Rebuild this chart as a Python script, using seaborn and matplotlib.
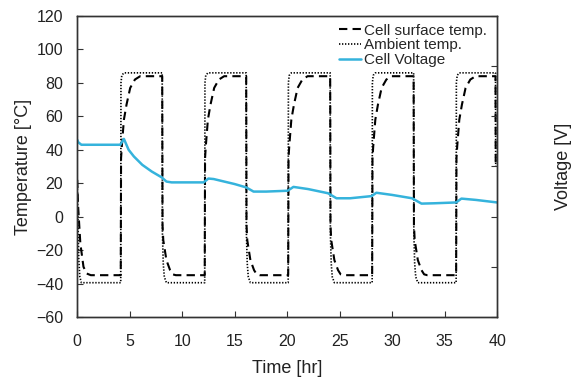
import matplotlib
matplotlib.use("Agg")
import matplotlib.pyplot as plt
import seaborn as sns
import pandas as pd

# ---- data ----
amb_t = [0, 0.05, 0.15, 0.25, 0.4,
         4.15, 4.17, 4.25, 4.45,
         8.1, 8.12, 8.2, 8.3, 8.5,
         12.15, 12.17, 12.25, 12.45,
         16.1, 16.12, 16.2, 16.3, 16.5,
         20.1, 20.12, 20.2, 20.4,
         24.1, 24.12, 24.2, 24.3, 24.5,
         28.1, 28.12, 28.2, 28.4,
         32.05, 32.07, 32.15, 32.25, 32.45,
         36.1, 36.12, 36.2, 36.4,
         39.85, 39.87]
amb_v = [22, 5, -25, -36, -39.5,
         -39.5, 80, 84.5, 86,
         86, -10, -28, -36, -39.5,
         -39.5, 80, 84.5, 86,
         86, -10, -28, -36, -39.5,
         -39.5, 80, 84.5, 86,
         86, -10, -28, -36, -39.5,
         -39.5, 80, 84.5, 86,
         86, -10, -28, -36, -39.5,
         -39.5, 80, 84.5, 86,
         86, 30]

cell_t = [0, 0.1, 0.3, 0.6, 0.9, 1.3,
          4.15, 4.18, 4.25, 4.45, 4.7, 5.05, 5.5, 6.0,
          8.1, 8.13, 8.2, 8.5, 8.85, 9.1, 9.4,
          12.15, 12.18, 12.25, 12.45, 12.7, 13.05, 13.5, 14.0,
          16.1, 16.13, 16.2, 16.5, 16.85, 17.1, 17.4,
          20.1, 20.13, 20.2, 20.4, 20.65, 21.0, 21.45, 21.95,
          24.1, 24.13, 24.2, 24.5, 24.85, 25.1, 25.4,
          28.1, 28.13, 28.2, 28.4, 28.65, 29.0, 29.45, 29.95,
          32.05, 32.08, 32.15, 32.45, 32.8, 33.05, 33.35,
          36.1, 36.13, 36.2, 36.4, 36.65, 37.0, 37.45, 37.95,
          39.85, 39.87]
cell_v = [22, 5, -16, -30, -34, -35,
          -35, 35, 42, 58, 67, 77, 82, 84,
          84, -5, -14, -26, -32, -34.5, -35,
          -35, 35, 42, 58, 67, 77, 82, 84,
          84, -5, -14, -26, -32, -34.5, -35,
          -35, 35, 42, 58, 67, 77, 82, 84,
          84, -5, -14, -26, -32, -34.5, -35,
          -35, 35, 42, 58, 67, 77, 82, 84,
          84, -5, -14, -26, -32, -34.5, -35,
          -35, 35, 42, 58, 67, 77, 82, 84,
          84, 30]

volt_t = [0, 0.1, 0.4, 4.1, 4.45, 4.9, 5.4, 6.2, 7.1, 8.05, 8.5, 9.0, 12.05,
          12.5, 13.0, 14.0, 15.0, 16.1, 16.8, 18.0, 20.05, 20.6, 22.0, 23.9,
          24.7, 26.0, 28.05, 28.5, 30.0, 31.9, 32.8, 34.0, 36.1, 36.6, 38.0, 40.0]
volt_v = [46, 44.5, 43, 43, 46.5, 40, 36, 31, 27, 23.5, 21, 20.5, 20.5,
          22.8, 22.5, 21, 19.5, 17.5, 15, 15, 15.5, 17.8, 16.5, 14,
          11, 11, 12.3, 14.3, 13, 11, 7.8, 8, 8.5, 10.8, 10, 8.5]

x_ticks = [0, 5, 10, 15, 20, 25, 30, 35, 40]
y_ticks = [-60, -40, -20, 0, 20, 40, 60, 80, 100, 120]

# ---- style ----
sns.set_style("ticks")
plt.rcParams['font.family'] = ['Liberation Sans', 'DejaVu Sans']
plt.rcParams['axes.edgecolor'] = '#333333'
plt.rcParams['xtick.color'] = '#333333'
plt.rcParams['ytick.color'] = '#333333'

fig = plt.figure(figsize=(5.76, 3.81), dpi=100)
ax = fig.add_axes([0.134, 0.168, 0.729, 0.790])

df_amb = pd.DataFrame({"t": amb_t, "v": amb_v})
df_cell = pd.DataFrame({"t": cell_t, "v": cell_v})
df_volt = pd.DataFrame({"t": volt_t, "v": volt_v})

sns.lineplot(data=df_cell, x="t", y="v", estimator=None, sort=False, ax=ax,
             color="black", linewidth=1.5, label="Cell surface temp.")
sns.lineplot(data=df_amb, x="t", y="v", estimator=None, sort=False, ax=ax,
             color="black", linewidth=1.2, label="Ambient temp.")
sns.lineplot(data=df_volt, x="t", y="v", estimator=None, sort=False, ax=ax,
             color="#35b3dc", linewidth=1.8, label="Cell Voltage")
lines = ax.get_lines()
lines[0].set_linestyle((0, (4, 2.5)))
lines[1].set_linestyle((0, (0.8, 1.0)))

ax.set_xlim(0, 40)
ax.set_ylim(-60, 120)
ax.set_xticks(x_ticks)
ax.set_yticks(y_ticks)
ax.tick_params(direction="in", length=4, labelsize=11.5, labelcolor="#222222", width=0.8)
ax.tick_params(axis="x", pad=12)
ax.tick_params(axis="y", pad=10)
ax.set_xlabel("Time [hr]", fontsize=13, color="#222222", labelpad=8)
ax.set_ylabel("Temperature [°C]", fontsize=13, color="#222222", labelpad=3)
for s in ax.spines.values():
    s.set_linewidth(1.0)

ax2 = ax.twinx()
ax2.set_ylim(0, 6)
ax2.set_yticks([0, 1, 2, 3, 4, 5, 6])
ax2.tick_params(direction="in", length=4, labelright=False, width=0.8)
ax2.set_ylabel("Voltage [V]", fontsize=13, color="#222222", labelpad=42)
for s in ax2.spines.values():
    s.set_linewidth(1.0)

leg = ax.legend(loc="upper right", frameon=False, fontsize=11, handlelength=1.5,
                handletextpad=0.2, labelspacing=0.05, borderaxespad=0.1,
                bbox_to_anchor=(0.995, 1.0))

fig.savefig("out.png", dpi=100)
